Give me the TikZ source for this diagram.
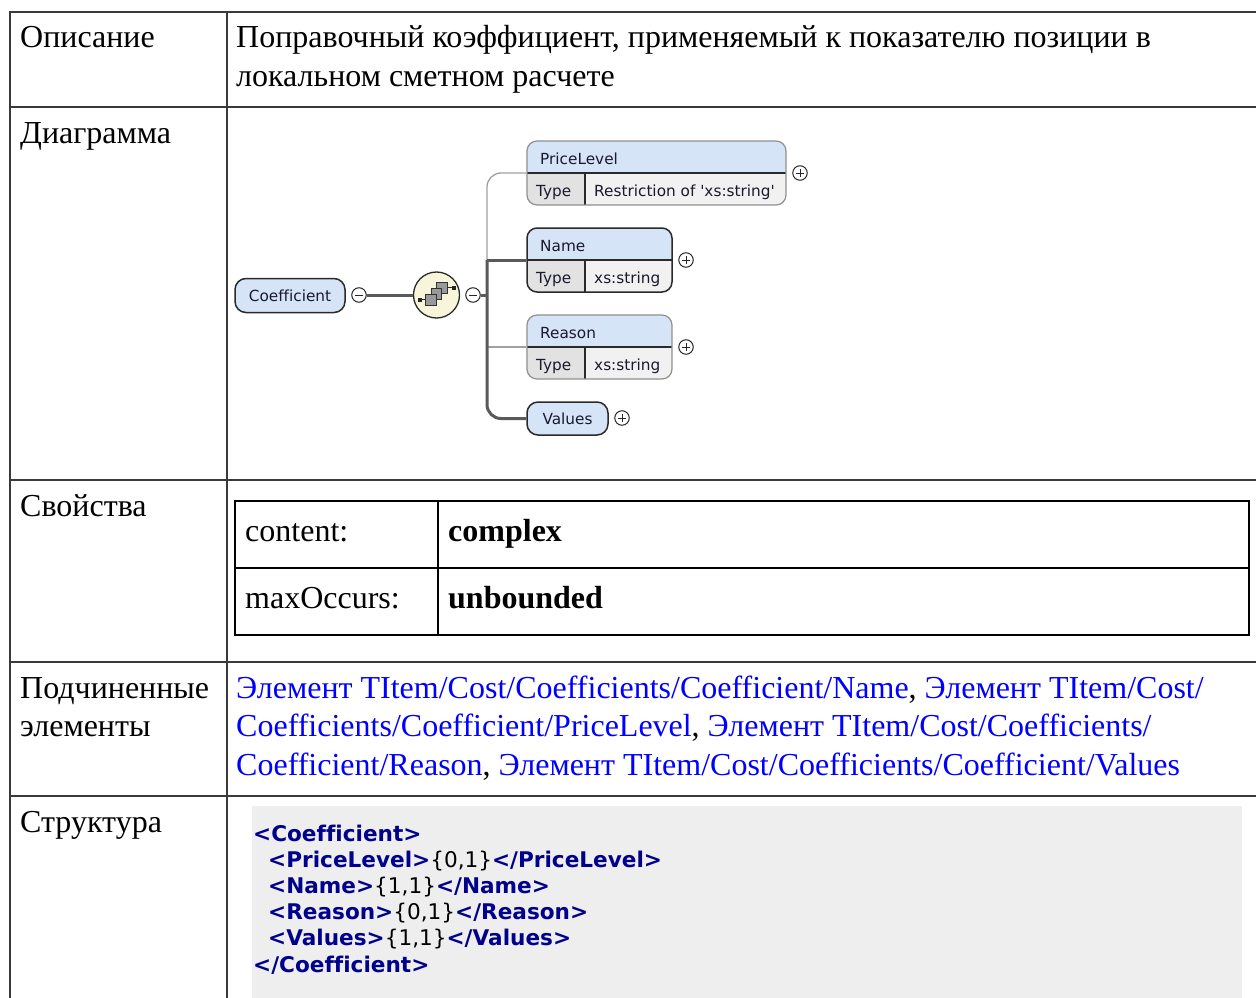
\documentclass[tikz,border=0pt]{standalone}
\usepackage{fontspec}
\setmainfont{Liberation Serif}
\newfontfamily\dv{DejaVu Sans}[Ligatures=NoCommon]
\usetikzlibrary{fit}
\definecolor{tblc}{HTML}{3A3A3A}
\definecolor{linkc}{HTML}{0000FF}
\definecolor{codec}{HTML}{00008C}
\definecolor{codebg}{HTML}{EEEEEE}
\definecolor{hdrfill}{HTML}{D6E4F8}
\definecolor{typefill}{HTML}{E2E2E2}
\definecolor{valfill}{HTML}{F1F1F1}
\definecolor{seqfill}{HTML}{F8F6DA}
\definecolor{busc}{HTML}{5A5A5A}
\definecolor{optlc}{HTML}{A0A0A0}
\definecolor{reqc}{HTML}{2A2A2A}
\definecolor{optc}{HTML}{909090}
\definecolor{dtxt}{HTML}{1A1A2E}

\newcommand{\elembox}[7]{%
  \begin{scope}
    \clip[rounded corners=10pt] (#2,#3) rectangle (#4,#3+64);
    \fill[hdrfill] (#2,#3) rectangle (#4,#3+32);
    \fill[typefill] (#2,#3+32) rectangle (#2+58,#3+64);
    \fill[valfill] (#2+58,#3+32) rectangle (#4,#3+64);
  \end{scope}
  \draw[draw=reqc, line width=1.1pt] (#2,#3+32) -- (#4,#3+32) (#2+58,#3+32) -- (#2+58,#3+64);
  \node[#7, fit={(#2,#3) (#4,#3+64)}, inner sep=0pt, rounded corners=10pt] (#1) {};
  \node[dtext] (#1-t) at (#2+13,#3+23) {#5};
  \node[dtext] (#1-k) at (#2+9,#3+55) {Type};
  \node[dtext] (#1-v) at (#2+67,#3+55) {#6};
}

\begin{document}
\begin{tikzpicture}[x=1pt,y=-1pt,
  tline/.style={draw=tblc, line width=2.5pt},
  body/.style={anchor=base west, inner sep=0pt, font=\fontsize{32}{38}\selectfont},
  code/.style={anchor=base west, inner sep=0pt, font=\dv\bfseries\fontsize{21.6}{26}\selectfont},
  dtext/.style={anchor=base west, inner sep=0pt, font=\dv\fontsize{15.3}{18}\selectfont, text=dtxt},
  reqborder/.style={draw=reqc, line width=1.5pt},
  optborder/.style={draw=optc, line width=1.2pt},
  reqline/.style={draw=busc, line width=3pt},
  optline/.style={draw=optlc, line width=1.3pt},
  pmcirc/.style={circle, draw=black!85, fill=white, line width=1pt, minimum size=14.5pt, inner sep=0pt},
  plusc/.style={pmcirc, path picture={
      \draw[line width=1pt] ([xshift=-4pt]path picture bounding box.center) -- ([xshift=4pt]path picture bounding box.center);
      \draw[line width=1pt] ([yshift=-4pt]path picture bounding box.center) -- ([yshift=4pt]path picture bounding box.center);}},
  minusc/.style={pmcirc, path picture={
      \draw[line width=1pt] ([xshift=-4pt]path picture bounding box.center) -- ([xshift=4pt]path picture bounding box.center);}},
  pill/.style={draw=reqc, line width=1.5pt, fill=hdrfill, rounded corners=11pt, inner sep=0pt,
      font=\dv\fontsize{15.3}{18}\selectfont, text=dtxt},
  seqcirc/.style={circle, draw=reqc, line width=1.3pt, fill=seqfill, minimum size=46pt, inner sep=0pt},
  sq/.style={draw=black!80, fill=black!40, line width=0.9pt}
]
\useasboundingbox (0,0) rectangle (1256,998);
\fill[white] (0,0) rectangle (1256,998);

% ---------- outer table ----------
\draw[tline] (10,12) -- (1256,12);
\foreach \yy in {107,480,662,796} \draw[tline] (10,\yy) -- (1256,\yy);
\draw[tline] (10,11) -- (10,998);
\draw[tline] (227,11) -- (227,998);

% ---------- row texts ----------
\node[body] (lab1) at (20,48) {Описание};
\node[body] (d1) at (236,48) {Поправочный коэффициент, применяемый к показателю позиции в};
\node[body] (d2) at (236,86) {локальном сметном расчете};
\node[body] (lab2) at (20,143) {Диаграмма};
\node[body] (lab3) at (20,516) {Свойства};
\node[body] (lab4) at (20,698) {Подчиненные};
\node[body] (lab4b) at (20,736) {элементы};
\node[body] (lab5) at (20,832) {Структура};

% ---------- properties ----------
\draw[black, line width=2pt] (235,501) rectangle (1249,635);
\draw[black, line width=2pt] (235,568) -- (1249,568);
\draw[black, line width=2pt] (438,501) -- (438,635);
\node[body] (p1) at (245,541) {content:};
\node[body] (p2) at (448,541) {\bfseries complex};
\node[body] (p3) at (245,608) {maxOccurs:};
\node[body] (p4) at (448,608) {\bfseries unbounded};

% ---------- links ----------
\node[body] (l1) at (236,698) {\textcolor{linkc}{Элемент TItem/Cost/Coefficients/Coefficient/Name}, \textcolor{linkc}{Элемент TItem/Cost/}};
\node[body] (l2) at (236,736.5) {\textcolor{linkc}{Coefficients/Coefficient/PriceLevel}, \textcolor{linkc}{Элемент TItem/Cost/Coefficients/}};
\node[body] (l3) at (236,775) {\textcolor{linkc}{Coefficient/Reason}, \textcolor{linkc}{Элемент TItem/Cost/Coefficients/Coefficient/Values}};

% ---------- structure ----------
\fill[codebg] (252,806) rectangle (1242,998);
\node[code] (c1) at (253,841) {\textcolor{codec}{<Coefficient>}};
\node[code] (c2) at (268,867.2) {\textcolor{codec}{<PriceLevel>}{\mdseries\{0,1\}}\textcolor{codec}{</PriceLevel>}};
\node[code] (c3) at (268,893.4) {\textcolor{codec}{<Name>}{\mdseries\{1,1\}}\textcolor{codec}{</Name>}};
\node[code] (c4) at (268,919.6) {\textcolor{codec}{<Reason>}{\mdseries\{0,1\}}\textcolor{codec}{</Reason>}};
\node[code] (c5) at (268,945.8) {\textcolor{codec}{<Values>}{\mdseries\{1,1\}}\textcolor{codec}{</Values>}};
\node[code] (c6) at (253,972) {\textcolor{codec}{</Coefficient>}};

% ---------- diagram ----------
\node[pill, minimum width=110pt, minimum height=34pt] (coef) at (290,295.5) {Coefficient};
\node[minusc] (cm) at (359,295) {};
\node[seqcirc] (seq) at (436.5,295) {};
\begin{scope}[shift={(seq.center)}, scale=1.2]
  \draw[black!85, line width=1pt] (-14,4) -- (-9,4);
  \draw[black!85, line width=1pt] (9,-6) -- (14.5,-6);
  \fill[black!85] (-15.5,2.5) rectangle (-12.5,5.5);
  \fill[black!85] (13,-7.5) rectangle (16,-4.5);
  \draw[sq] (0,-10.5) rectangle (9,-1.5);
  \draw[sq] (-4.5,-5.5) rectangle (4.5,3.5);
  \draw[sq] (-9,-0.5) rectangle (0,8.5);
\end{scope}
\node[minusc] (sm) at (473,295) {};

\elembox{pl}{527}{141}{786}{PriceLevel}{Restriction of \textquotesingle xs:string\textquotesingle}{optborder}
\elembox{nm}{527}{228}{672}{Name}{xs:string}{reqborder}
\elembox{rs}{527}{315}{672}{Reason}{xs:string}{optborder}
\node[pill, minimum width=81pt, minimum height=33pt] (va) at (567.5,418.5) {Values};

\node[plusc] (ppl) at (800,173) {};
\node[plusc] (pnm) at (686,260) {};
\node[plusc] (prs) at (686,347) {};
\node[plusc] (pva) at (622,418) {};

\coordinate (busM) at (487,295);
\coordinate (busN) at (487,260);
\coordinate (busR) at (487,347);
\draw[reqline] (cm) -- (seq);
\draw[optline, rounded corners=14pt] (busN) |- (pl.west);
\draw[optline] (busR) -- (rs.west);
\draw[reqline] (sm) -- (busM);
\draw[reqline] (busN) -- (nm.west);
\draw[reqline, rounded corners=14pt] (busN) |- (va.west);
\end{tikzpicture}
\end{document}
